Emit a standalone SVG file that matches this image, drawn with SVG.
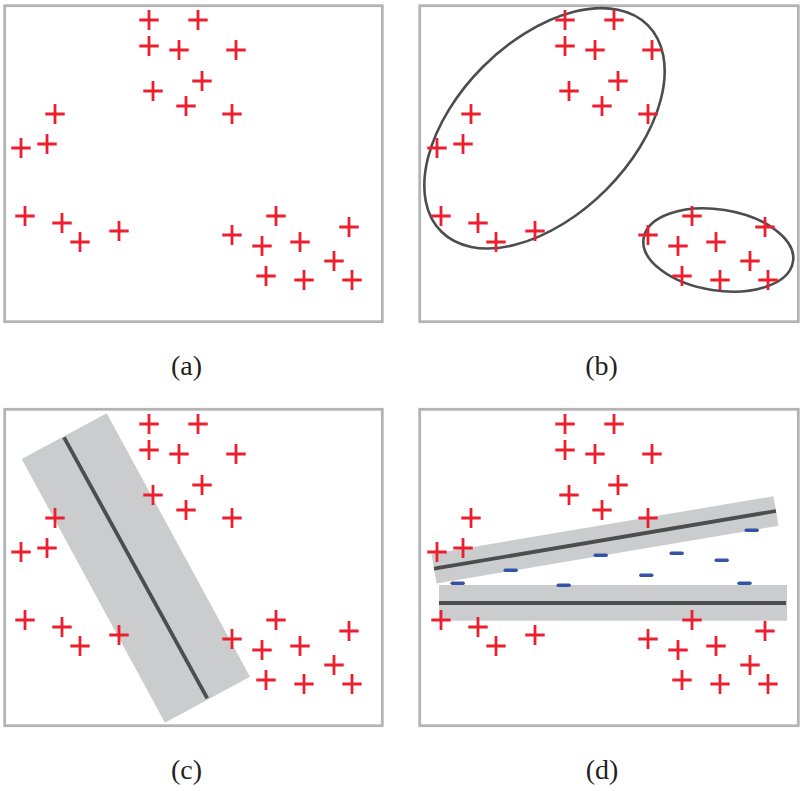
<svg xmlns="http://www.w3.org/2000/svg" xmlns:xlink="http://www.w3.org/1999/xlink" width="804" height="791" viewBox="0 0 804 791">
<style>
.frame{fill:#fff;stroke:#b4b4b6;stroke-width:2.8}
.band{fill:#cbcccd}
.sep{stroke:#4d4d4d;stroke-width:3.8;fill:none}
.ell{fill:none;stroke:#4d4d4d;stroke-width:2.6}
.plus{stroke:#ec1f2e;stroke-width:2.8;fill:none}
.minus{stroke:#3453a5;stroke-width:3.6;stroke-linecap:round;fill:none}
.lbl{font-family:"Liberation Serif","Times New Roman",serif;font-size:28px;fill:#231f20;text-anchor:middle}
</style>
<defs>
<path id="p" class="plus" d="M-9.7 0H9.7M0-10V10"/>
<path id="m" class="minus" d="M-5.4 0H5.4"/>
<g id="pts">
<use xlink:href="#p" x="149" y="20"/><use xlink:href="#p" x="198" y="20"/>
<use xlink:href="#p" x="149" y="46"/><use xlink:href="#p" x="179" y="50"/>
<use xlink:href="#p" x="236" y="50"/><use xlink:href="#p" x="202" y="81"/>
<use xlink:href="#p" x="153" y="91"/><use xlink:href="#p" x="186" y="106"/>
<use xlink:href="#p" x="232" y="114"/><use xlink:href="#p" x="55" y="114"/>
<use xlink:href="#p" x="21" y="148"/><use xlink:href="#p" x="47" y="144"/>
<use xlink:href="#p" x="25" y="216"/><use xlink:href="#p" x="62" y="223"/>
<use xlink:href="#p" x="80" y="242"/><use xlink:href="#p" x="119" y="231"/>
<use xlink:href="#p" x="232" y="235"/><use xlink:href="#p" x="276" y="216"/>
<use xlink:href="#p" x="262" y="246"/><use xlink:href="#p" x="300" y="242"/>
<use xlink:href="#p" x="349" y="227"/><use xlink:href="#p" x="334" y="261"/>
<use xlink:href="#p" x="266" y="276"/><use xlink:href="#p" x="304" y="280"/>
<use xlink:href="#p" x="352" y="280"/>
</g>
</defs>

<g id="panel-a">
<rect class="frame" x="4.7" y="5.7" width="377.6" height="316"/>
<use xlink:href="#pts"/>
<text class="lbl" x="186.5" y="375">(a)</text>
</g>

<g id="panel-b">
<rect class="frame" x="419.7" y="5.7" width="378.6" height="316"/>
<ellipse class="ell" cx="544.5" cy="128.3" rx="146" ry="87" transform="rotate(-45 544.5 128.3)"/>
<ellipse class="ell" cx="718.3" cy="250" rx="75.6" ry="40.5" transform="rotate(8.85 718.3 250)"/>
<use xlink:href="#pts" x="416" y="0"/>
<text class="lbl" x="601.5" y="375">(b)</text>
</g>

<g id="panel-c">
<rect class="frame" x="4.7" y="409.3" width="377.6" height="316.4"/>
<polygon class="band" points="106.7,413.3 250,676.7 165,722.7 21.7,459"/>
<line class="sep" x1="64" y1="437.3" x2="207.3" y2="698.3"/>
<use xlink:href="#pts" x="0" y="404"/>
<text class="lbl" x="186.5" y="779">(c)</text>
</g>

<g id="panel-d">
<rect class="frame" x="419.7" y="409.3" width="378.6" height="316.4"/>
<polygon class="band" points="431.5,553.9 773.5,496.2 778.5,525.8 436.5,583.5"/>
<line class="sep" x1="434" y1="568.7" x2="776" y2="511"/>
<rect class="band" x="439" y="585" width="348" height="35.7"/>
<line class="sep" x1="439" y1="603" x2="786" y2="603"/>
<use xlink:href="#pts" x="416" y="404"/>
<use xlink:href="#m" x="457.7" y="583.3"/>
<use xlink:href="#m" x="510.7" y="570.2"/>
<use xlink:href="#m" x="563.7" y="585.3"/>
<use xlink:href="#m" x="600.7" y="555.3"/>
<use xlink:href="#m" x="646.3" y="575.3"/>
<use xlink:href="#m" x="676.7" y="553.3"/>
<use xlink:href="#m" x="721.7" y="560.3"/>
<use xlink:href="#m" x="751.7" y="530.3"/>
<use xlink:href="#m" x="744.5" y="583.3"/>
<text class="lbl" x="602" y="779">(d)</text>
</g>
</svg>
